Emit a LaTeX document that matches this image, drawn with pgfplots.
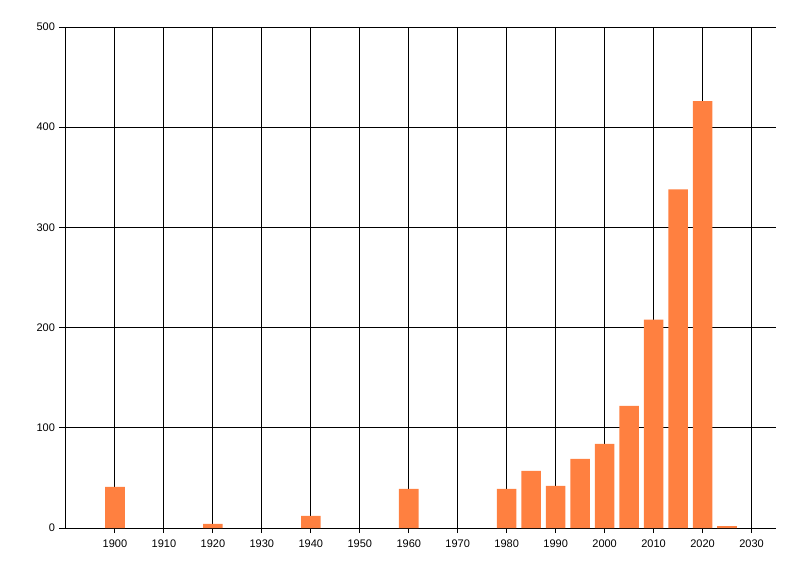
\documentclass[border=0pt]{standalone}
\usepackage{pgfplots}
\pgfplotsset{compat=1.18}
\usepackage{fontspec}
\setmainfont{Liberation Sans}
\definecolor{barc}{RGB}{255,128,64}
\begin{document}
\begin{tikzpicture}[x=1pt,y=1pt]
\begin{axis}[
  at={(0,0)}, anchor=south west,
  scale only axis,
  width=532.5pt, height=375.75pt,
  xmin=1890, xmax=2035,
  ymin=0, ymax=500,
  axis x line*=bottom, axis y line*=left,
  axis line style={line width=0.75pt, black, -},
  xtick={1900,1910,...,2030},
  ytick={0,100,...,500},
  grid=major,
  major grid style={line width=0.75pt, black},
  tick align=outside,
  xtick style={line width=0.75pt, black, /pgfplots/major tick length=3.75pt},
  ytick style={line width=0.75pt, black, /pgfplots/major tick length=5.25pt},
  tick label style={font=\fontsize{8.25}{10}\selectfont},
  /pgf/number format/assume math mode=true,
  /pgf/number format/1000 sep={},
  xticklabel style={yshift=-1pt},
  yticklabel style={xshift=-0.5pt},
  ybar, bar width=4,
]
\addplot[fill=barc, draw=none] coordinates {
(1900,41) (1920,4) (1940,12) (1960,39) (1980,39) (1985,57) (1990,42)
(1995,69) (2000,84) (2005,122) (2010,208) (2015,338) (2020,426) (2025,2)
};
\end{axis}
\path[use as bounding box] (-49.5pt,-36pt) rectangle (550.5pt,396pt);
\end{tikzpicture}
\end{document}
